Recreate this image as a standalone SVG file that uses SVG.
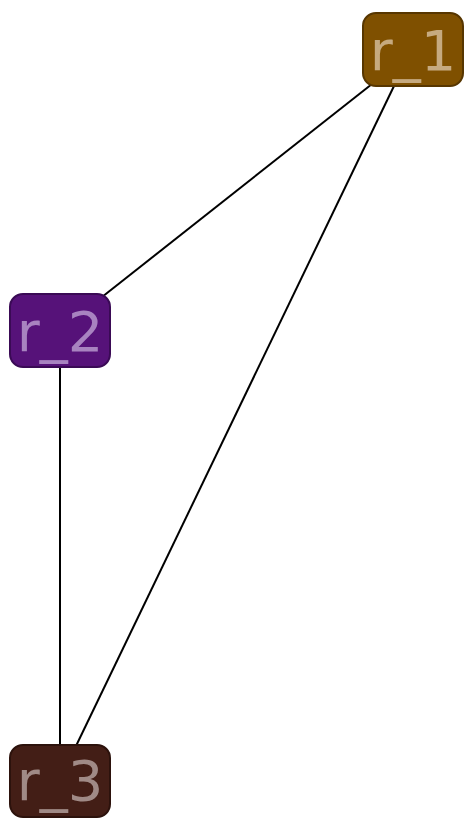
<svg xmlns="http://www.w3.org/2000/svg" width="476" height="825" viewBox="0 0 476 825">
<style>
.n{stroke-width:2}
.t{font-family:"DejaVu Sans",sans-serif;font-size:56px;text-anchor:middle}
.e{stroke:#000;stroke-width:2;fill:none}
</style>
<rect width="476" height="825" fill="#fff"/>
<g id="edges">
<line class="e" x1="372" y1="84" x2="102" y2="297"/>
<line class="e" x1="394" y1="86" x2="76" y2="746"/>
<line class="e" x1="60" y1="367" x2="60" y2="746"/>
</g>
<g id="r_1">
<rect class="n" x="363" y="13" width="100" height="73" rx="13" fill="#7f5000" stroke="#573600"/>
<text class="t" x="413" y="70" fill="#c6aa80">r_1</text>
</g>
<g id="r_2">
<rect class="n" x="10" y="294" width="100" height="73" rx="13" fill="#561279" stroke="#3a0a55"/>
<text class="t" x="60" y="351" fill="#a883c0">r_2</text>
</g>
<g id="r_3">
<rect class="n" x="10" y="745" width="100" height="72" rx="13" fill="#431e16" stroke="#2c120c"/>
<text class="t" x="60" y="800" fill="#a08a86">r_3</text>
</g>
</svg>
